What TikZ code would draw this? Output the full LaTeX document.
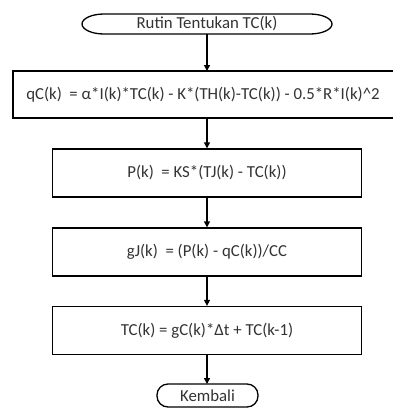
\documentclass[tikz,border=0pt]{standalone}
\usepackage{fontspec}
\setmainfont{Carlito}
\usetikzlibrary{arrows.meta}
\begin{document}
\begin{tikzpicture}[x=1pt,y=-1pt,
  every node/.style={font=\fontsize{16.8}{19}\selectfont, text=black!80},
  term/.style={draw, line width=1.3pt, rounded corners=11pt},
  procbox/.style={draw, line width=1.3pt, inner sep=0pt},
  flow/.style={line width=1.3pt, -{Triangle[length=6pt,width=6pt]}}]
\useasboundingbox (0,0) rectangle (392,410);
\fill[white] (0,0) rectangle (392,410);
\draw[line width=1.3pt] (104,14) -- (310,14)
  arc[start angle=90, end angle=-90, x radius=22pt, y radius=10pt]
  -- (104,34)
  arc[start angle=270, end angle=90, x radius=22pt, y radius=10pt] -- cycle;
\node (start) at (207,24) {Rutin Tentukan TC(k)};
\coordinate (startb) at (207,34);
\draw[procbox] (13,71) rectangle (400,118);
\node (qc) at (203,94.5) {qC(k)\ \ = α*I(k)*TC(k) - K*(TH(k)-TC(k)) - 0.5*R*I(k)\^{}2};
\coordinate (qct) at (207,71);
\coordinate (qcb) at (207,118);
\node[procbox, minimum width=309pt, minimum height=48pt] (p) at (207,173) {P(k)\ \ = KS*(TJ(k) - TC(k))};
\node[procbox, minimum width=309pt, minimum height=48pt] (g) at (207,252) {gJ(k)\ \ = (P(k) - qC(k))/CC};
\node[procbox, minimum width=309pt, minimum height=48pt] (tc) at (207,330.5) {TC(k) = gC(k)*Δt + TC(k-1)};
\draw[term] (157,384) rectangle (258,407);
\node (end) at (207.5,395.5) {Kembali};
\coordinate (endt) at (207,384);
\draw[flow] (startb) -- (qct);
\draw[flow] (qcb) -- (p.north);
\draw[flow] (p.south) -- (g.north);
\draw[flow] (g.south) -- (tc.north);
\draw[flow] (tc.south) -- (endt);
\end{tikzpicture}
\end{document}
